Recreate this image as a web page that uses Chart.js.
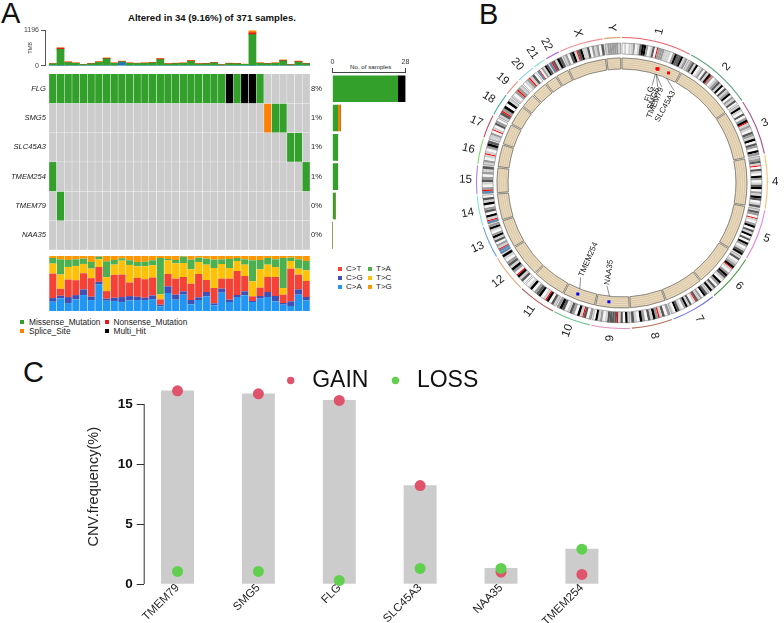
<!DOCTYPE html>
<html>
<head>
<meta charset="utf-8">
<script src="https://cdn.jsdelivr.net/npm/chart.js@4/dist/chart.umd.js"></script>
<style>
html,body{margin:0;padding:0;background:#fff}
#page{position:relative;width:784px;height:623px;overflow:hidden;font-family:"Liberation Sans",Arial,sans-serif;color:#111}
canvas{position:absolute}
.t{position:absolute;white-space:nowrap;line-height:1}
.sq{position:absolute;width:4px;height:4px}
</style>
</head>
<body>
<div id="page">
<span class="t" style="left:1px;top:-1px;font-size:29px">A</span>
<span class="t" style="left:479px;top:0px;font-size:29px">B</span>
<span class="t" style="left:23px;top:358px;font-size:29px">C</span>
<span class="t" style="left:128px;top:13px;font-size:9.6px;font-weight:bold">Altered in 34 (9.16%) of 371 samples.</span>
<span class="t" style="left:350px;top:64px;font-size:6.2px;color:#222">No. of samples</span>

<i class="sq" style="left:20px;top:320px;background:#33A02C"></i><span class="t" style="left:29px;top:318px;font-size:8.3px;color:#222">Missense_Mutation</span>
<i class="sq" style="left:105px;top:320px;background:#E31A1C"></i><span class="t" style="left:113.5px;top:318px;font-size:8.3px;color:#222">Nonsense_Mutation</span>
<i class="sq" style="left:20px;top:329px;background:#FF7F00"></i><span class="t" style="left:29px;top:327px;font-size:8.3px;color:#222">Splice_Site</span>
<i class="sq" style="left:105px;top:329px;background:#000"></i><span class="t" style="left:113.5px;top:327px;font-size:8.3px;color:#222">Multi_Hit</span>

<i class="sq" style="left:338px;top:267px;background:#F44336"></i><span class="t" style="left:346px;top:265px;font-size:8px;color:#222">C&gt;T</span>
<i class="sq" style="left:338px;top:276px;background:#3F51B5"></i><span class="t" style="left:346px;top:274px;font-size:8px;color:#222">C&gt;G</span>
<i class="sq" style="left:338px;top:285px;background:#2196F3"></i><span class="t" style="left:346px;top:283px;font-size:8px;color:#222">C&gt;A</span>
<i class="sq" style="left:368px;top:267px;background:#4CAF50"></i><span class="t" style="left:376px;top:265px;font-size:8px;color:#222">T&gt;A</span>
<i class="sq" style="left:368px;top:276px;background:#FFC107"></i><span class="t" style="left:376px;top:274px;font-size:8px;color:#222">T&gt;C</span>
<i class="sq" style="left:368px;top:285px;background:#FF9800"></i><span class="t" style="left:376px;top:283px;font-size:8px;color:#222">T&gt;G</span>

<canvas id="tmb" width="312" height="72" style="left:0;top:0"></canvas>
<canvas id="onco" width="345" height="200" style="left:0;top:60px"></canvas>
<canvas id="side" width="100" height="205" style="left:320px;top:50px"></canvas>
<canvas id="comp" width="312" height="60" style="left:0;top:254px"></canvas>
<canvas id="circos" width="344" height="344" style="left:450px;top:11px"></canvas>
<canvas id="cnv" width="759" height="271" style="left:0;top:352px"></canvas>
</div>
<script>
/* ---------- Panel A data ---------- */
const genes = ['FLG','SMG5','SLC45A3','TMEM254','TMEM79','NAA35'];
const genePct = ['8%','1%','1%','1%','0%','0%'];
const cellsFLG     = 'mmmmmmmmmm'+'mmmmmmmmmm'+'mmmxmxxm..'+'....';
const cellsSMG5    = '..........'+'..........'+'........sm'+'m...';
const cellsSLC45A3 = '..........'+'..........'+'..........'+'.mm.';
const cellsTMEM254 = 'm.........'+'..........'+'..........'+'...m';
const cellsTMEM79  = '.m........'+'..........'+'..........'+'....';
const cellsNAA35   = '..........'+'..........'+'..........'+'....';
const sideMissense = [25,2,2,2,1,0];
const sideSplice   = [0,1,0,0,0,0];
const sideMulti    = [3,0,0,0,0,0];
const tmbBlue     = [0,10,0,0,0,0,0,0,0,105,0,0,0,0,0,0,0,0,0,0,0,0,0,0,0,0,10,0,0,0,0,0,0,0];
const tmbMissense = [62,540,110,85,38,65,118,235,82,30,85,78,82,100,205,55,72,85,150,55,65,100,32,70,62,45,1030,85,65,85,170,35,125,62];
const tmbNonsense = [5,40,15,10,5,10,10,15,10,10,8,6,10,10,25,8,8,8,15,8,8,10,4,10,8,8,60,8,8,8,15,5,15,10];
const tmbSplice   = [3,10,5,5,2,5,12,20,8,15,7,6,8,10,15,7,10,7,15,7,7,10,4,10,10,7,70,7,7,7,15,2,20,8];
const shareCA = [28,38,24,35,48,33,81,31,30,27,32,33,33,36,14,54,34,49,20,33,44,17,55,27,42,47,27,37,42,29,19,15,49,32];
const shareCG = [11,8,18,13,17,10,7,6,10,15,13,10,7,11,5,20,15,10,13,8,13,6,12,7,6,12,3,8,15,16,5,14,16,10];
const shareCT = [74,21,53,45,49,56,45,23,69,68,41,57,56,54,16,37,48,43,49,70,36,46,30,63,72,46,14,25,45,57,25,98,44,48];
const shareTC = [30,43,38,43,28,29,23,42,31,42,53,35,39,37,15,41,46,42,43,36,46,60,44,32,30,34,45,55,37,30,20,23,18,32];
const shareTA = [17,46,21,20,16,20,8,48,14,7,14,13,14,15,110,4,10,19,29,13,18,25,14,27,9,16,63,28,20,23,90,10,28,28];
const shareTG = [6,10,12,10,8,18,2,16,12,7,13,18,17,13,6,9,12,2,11,5,8,11,10,9,6,10,13,12,6,10,6,5,10,15];

/* ---------- Panel B data ---------- */
const chrNames = ['1','2','3','4','5','6','7','8','9','10','11','12','13','14','15','16','17','18','19','20','21','22','X','Y'];
const chrSizes = [248.9,242.2,198.3,190.2,181.5,170.8,159.3,145.1,138.4,133.8,135.1,133.3,114.4,107,102,90.3,83.3,80.4,58.6,64.4,46.7,50.8,156,57.2];
const chrArcColors = ['#E8606A','#5BA37F','#A8528A','#F5C26B','#E680E6','#4F9A4A','#7070E0','#B8705A','#E090C0','#70C890','#B05555','#F0A070','#70A0E0','#80E8D0','#B080E8','#80E060','#C05060','#50B0A0','#F09080','#80D0F0','#80E8C0','#A060E0','#F09090','#D8A070'];
const chrBands = ['0101120134420130r22211102433412','123140120314r20123140312402130','14103024r12103214032042','1231r031042013402143013','1320r10240314030420134','130124r1024310420314','1340213r103142013401','2031r2413024013','14031r3333102140','203r1402310342','1304r104320410','0314r024132014','bbr12031420142','br1403204130','br201320213','1201r10243','1120r10320','13r24041','102r21','012r130','br02143','br3143','120341r34113021203','1222221'];
const geneLabels = ['FLG','SMG5','TMEM79','SLC45A3','TMEM254','NAA35'];
const geneChr = [0,0,0,0,9,8];
const geneMb = [152,156,156,205,80,86];
const geneColors = ['#ff0000','#ff0000','#ff0000','#ff0000','#0000ff','#0000ff'];

/* ---------- Panel C data ---------- */
const cnvGenes = ['TMEM79','SMG5','FLG','SLC45A3','NAA35','TMEM254'];
const cnvGain = [16.1,15.85,15.3,8.2,1.0,0.8];
const cnvLoss = [1.05,1.05,0.3,1.3,1.3,2.9];
const cnvTotal = [16.1,15.85,15.3,8.2,1.3,2.9];
const cnvTicks = [0,5,10,15];

/* ---------- shared ---------- */
Chart.defaults.font.family = '"Liberation Sans",Arial,sans-serif';
Chart.defaults.animation = false;
Chart.defaults.responsive = false;
Chart.defaults.events = [];
Chart.defaults.plugins.legend.display = false;
Chart.defaults.plugins.tooltip.enabled = false;
const cellColor = {m:'#33A02C',s:'#FF7F00',x:'#000000','.':'#CCCCCC'};
const columnIndex = tmbMissense.map((_,i)=>i);
const rowCenters = genes.map((_,i)=>i+0.5);
const setTicks = vals => s => { s.ticks = vals.map(v=>({value:v})); };
const fixWidth = w => s => { s.width = w; };
const fixHeight = h => s => { s.height = h; };

/* TMB */
const tmbPts = arr => arr.map((v,i)=>({x:i,y:v}));
new Chart(document.getElementById('tmb'),{
  type:'bar',
  data:{datasets:[
    {data:tmbPts(tmbBlue),backgroundColor:'#1F78B4'},
    {data:tmbPts(tmbMissense),backgroundColor:'#33A02C'},
    {data:tmbPts(tmbNonsense),backgroundColor:'#E31A1C'},
    {data:tmbPts(tmbSplice),backgroundColor:'#FF7F00'}
  ]},
  options:{
    layout:{padding:{top:30,bottom:2,right:2}},
    datasets:{bar:{barThickness:7.1}},
    scales:{
      x:{type:'linear',offset:false,display:false,stacked:true,min:-1.02,max:33.5},
      y:{stacked:true,min:0,max:1196,afterBuildTicks:setTicks([0,1196]),afterFit:fixWidth(45),
        border:{color:'#555',width:1},
        grid:{drawOnChartArea:false,tickLength:4,color:'#555'},
        ticks:{callback:v=>String(v),font:{size:7},color:'#444',padding:2},
        title:{display:true,text:'TMB',font:{size:5.5},color:'#333',padding:{top:27,bottom:0}}}
    }
  }
});

/* oncoplot */
const cellRows = [cellsFLG,cellsSMG5,cellsSLC45A3,cellsTMEM254,cellsTMEM79,cellsNAA35];
new Chart(document.getElementById('onco'),{
  type:'bar',
  data:{labels:columnIndex,datasets:cellRows.map(r=>({
    data:r.split('').map(()=>1),
    backgroundColor:r.split('').map(c=>cellColor[c]),
    borderColor:'#f4f4f4',borderWidth:0.5
  }))},
  options:{
    layout:{padding:{top:14,bottom:10}},
    datasets:{bar:{barPercentage:1,categoryPercentage:1}},
    scales:{
      x:{stacked:true,display:false},
      y:{stacked:true,reverse:true,min:0,max:6,afterBuildTicks:setTicks(rowCenters),afterFit:fixWidth(49),
        border:{display:false},grid:{display:false,drawTicks:false},
        ticks:{callback:v=>genes[v-0.5],font:{size:7.6,style:'italic'},color:'#222',padding:3}},
      y1:{position:'right',reverse:true,min:0,max:6,afterBuildTicks:setTicks(rowCenters),afterFit:fixWidth(35),
        border:{display:false},grid:{display:false,drawTicks:false},
        ticks:{callback:v=>genePct[v-0.5],font:{size:7.6},color:'#222',padding:1}}
    }
  }
});

/* sample counts */
const sidePts = arr => arr.map((v,i)=>({x:v,y:rowCenters[i]}));
new Chart(document.getElementById('side'),{
  type:'bar',
  data:{datasets:[
    {data:sidePts(sideMissense),backgroundColor:'#33A02C'},
    {data:sidePts(sideSplice),backgroundColor:'#FF7F00'},
    {data:sidePts(sideMulti),backgroundColor:'#000000'}
  ]},
  options:{
    indexAxis:'y',
    layout:{padding:{left:12.5,right:14.5,bottom:5}},
    datasets:{bar:{barThickness:26}},
    scales:{
      x:{type:'linear',position:'top',stacked:true,min:0,max:28,afterBuildTicks:setTicks([0,28]),afterFit:fixHeight(22),
        border:{color:'#444',width:1},
        grid:{drawOnChartArea:false,tickLength:4,color:'#444'},
        ticks:{font:{size:7},color:'#333',padding:2,maxRotation:0}},
      y:{type:'linear',offset:false,stacked:true,display:false,reverse:true,min:-0.07,max:6}
    }
  }
});

/* mutation spectrum */
const shareTotals = columnIndex.map(i=>shareCA[i]+shareCG[i]+shareCT[i]+shareTC[i]+shareTA[i]+shareTG[i]);
const asShare = arr => arr.map((v,i)=>v/shareTotals[i]);
new Chart(document.getElementById('comp'),{
  type:'bar',
  data:{labels:columnIndex,datasets:[
    {data:asShare(shareCA),backgroundColor:'#2196F3'},
    {data:asShare(shareCG),backgroundColor:'#3F51B5'},
    {data:asShare(shareCT),backgroundColor:'#F44336'},
    {data:asShare(shareTC),backgroundColor:'#FFC107'},
    {data:asShare(shareTA),backgroundColor:'#4CAF50'},
    {data:asShare(shareTG),backgroundColor:'#FF9800'}
  ]},
  options:{
    layout:{padding:{left:49,right:2,top:2,bottom:3}},
    datasets:{bar:{barPercentage:1,categoryPercentage:0.93}},
    scales:{x:{stacked:true,display:false},y:{stacked:true,display:false,min:0,max:1}}
  }
});

/* circos */
const GAP = 5.5;
const bandColor = {'0':'#f6f6f6','1':'#d2d2d2','2':'#9c9c9c','3':'#585858','4':'#000000',r:'#ff0000',b:'#5b8db8'};
const chrData = chrSizes.flatMap(s=>[s,GAP]);
const spacer = w => ({data:chrData,backgroundColor:'rgba(0,0,0,0)',borderWidth:0,weight:w});
const tanRing = () => ({data:chrData,weight:2.2,
  backgroundColor:chrSizes.flatMap(()=>['#EBDABB','rgba(0,0,0,0)']),
  borderColor:chrSizes.flatMap(()=>['#CBB998','rgba(0,0,0,0)']),
  borderWidth:chrSizes.flatMap(()=>[0.5,0])});
const bandWeight = c => c==='r' ? 0.5 : 1;
const ideoData = chrSizes.flatMap((s,i)=>{
  const chars = chrBands[i].split('');
  const sum = chars.reduce((t,c)=>t+bandWeight(c),0);
  return chars.map(c=>s*bandWeight(c)/sum).concat([GAP]);
});
const ideoColors = chrSizes.flatMap((s,i)=>chrBands[i].split('').map(c=>bandColor[c]).concat(['rgba(0,0,0,0)']));

const circosMarks = {
  id:'circosMarks',
  afterDatasetsDraw(chart){
    const ctx = chart.ctx, n = chart.data.datasets.length;
    const outer = chart.getDatasetMeta(0).data;
    const ideo = chart.getDatasetMeta(2).data[0];
    const tanOut = chart.getDatasetMeta(4).data[0];
    const tanIn = chart.getDatasetMeta(n-1).data[0];
    const cx = outer[0].x, cy = outer[0].y;
    const polar = (r,a)=>[cx+r*Math.cos(a),cy+r*Math.sin(a)];
    const seg = (r0,r1,a0,a1,col,w)=>{
      ctx.beginPath();ctx.arc(cx,cy,r1,a0,a1);ctx.arc(cx,cy,r0,a1,a0,true);ctx.closePath();
      ctx.strokeStyle=col;ctx.lineWidth=w;ctx.stroke();
    };
    ctx.save();
    ctx.textAlign='center';ctx.textBaseline='middle';
    chrNames.forEach((name,i)=>{
      const e = outer[i*2];
      seg(ideo.innerRadius,ideo.outerRadius,e.startAngle,e.endAngle,'#666',0.5);
      seg(tanIn.innerRadius,tanOut.outerRadius,e.startAngle,e.endAngle,'#666',0.7);
      const mid=(e.startAngle+e.endAngle)/2;
      const deg=(mid+Math.PI/2)*180/Math.PI;
      const rot=(deg<180?deg-90:deg-270)*Math.PI/180;
      ctx.font='11.5px "Liberation Sans"';
      const tw=ctx.measureText(name).width;
      const r=150+0.5*(Math.abs(Math.cos(rot))*tw+Math.abs(Math.sin(rot))*11);
      const [x,y]=polar(r,mid);
      ctx.save();ctx.translate(x,y);ctx.rotate(rot);ctx.fillStyle='#222';ctx.fillText(name,0,0);ctx.restore();
    });
    /* gene marks */
    const labelNudge=[0.2,3,5,6.5,2,2];
    const labelR=[101,101.5,103,105,102,103];
    geneLabels.forEach((g,i)=>{
      const e=outer[geneChr[i]*2];
      const a=e.startAngle+(e.endAngle-e.startAngle)*geneMb[i]/chrSizes[geneChr[i]];
      const la=a+labelNudge[i]*Math.PI/180;
      const [p0x,p0y]=polar(tanIn.innerRadius,a);
      const [p1x,p1y]=polar(labelR[i]+1,la);
      ctx.beginPath();ctx.moveTo(p0x,p0y);ctx.lineTo(p1x,p1y);ctx.strokeStyle='#222';ctx.lineWidth=0.5;ctx.stroke();
      const [mx,my]=polar(119.5,a);
      ctx.fillStyle=geneColors[i];ctx.fillRect(mx-1.5,my-1.5,3,3);
      const deg=(la+Math.PI/2)*180/Math.PI;
      const right=deg<180;
      const [tx,ty]=polar(labelR[i],la);
      ctx.save();ctx.translate(tx,ty);
      ctx.rotate((right?deg-90:deg-270)*Math.PI/180);
      ctx.textAlign=right?'right':'left';
      ctx.font='8px "Liberation Sans"';ctx.fillStyle='#222';
      ctx.fillText(g,0,0);ctx.restore();
    });
    ctx.restore();
  }
};
new Chart(document.getElementById('circos'),{
  type:'doughnut',
  plugins:[circosMarks],
  data:{labels:chrData.map((_,i)=>i),datasets:[
    {data:chrData,weight:1.1,borderWidth:0,backgroundColor:chrArcColors.flatMap(c=>[c,'rgba(0,0,0,0)'])},
    spacer(4.9),
    {data:ideoData,weight:11,borderWidth:0,backgroundColor:ideoColors},
    spacer(4),
    tanRing(),tanRing(),tanRing(),tanRing(),tanRing()
  ]},
  options:{
    layout:{padding:26},
    cutout:114,
    rotation:0
  }
});

/* CNV frequency */
const cnvAxisLine = {
  id:'cnvAxisLine',
  afterLayout(chart){ chart.legend.bottom = chart.legend.top + 60; },
  afterDraw(chart){
    const y=chart.scales.y, x=chart.chartArea.left+0.5, ctx=chart.ctx;
    ctx.save();ctx.beginPath();
    ctx.moveTo(x,y.getPixelForValue(0));ctx.lineTo(x,y.getPixelForValue(15));
    ctx.strokeStyle='#333';ctx.lineWidth=1;ctx.stroke();ctx.restore();
  }
};
const pts = arr => arr.map((v,i)=>({x:i,y:v}));
new Chart(document.getElementById('cnv'),{
  type:'bar',
  plugins:[cnvAxisLine],
  data:{datasets:[
    {type:'bar',data:pts(cnvTotal),backgroundColor:'#CCCCCC',barThickness:32.3,order:3},
    {type:'scatter',label:'GAIN',data:pts(cnvGain),backgroundColor:'#DF536B',borderWidth:0,pointRadius:5.5,pointStyle:'circle',order:2,clip:false},
    {type:'scatter',label:'LOSS',data:pts(cnvLoss),backgroundColor:'#61D04F',borderWidth:0,pointRadius:5.5,pointStyle:'circle',order:1,clip:false}
  ]},
  options:{
    plugins:{legend:{display:true,position:'top',maxHeight:37.6,
      labels:{usePointStyle:true,boxWidth:20,boxHeight:5.2,padding:17,color:'#111',font:{size:23},
        sort:(a,b)=>a.datasetIndex-b.datasetIndex,
        filter:i=>i.text==='GAIN'||i.text==='LOSS'}}},
    scales:{
      x:{type:'linear',offset:false,min:-0.418,max:7.122,afterBuildTicks:setTicks(cnvGenes.map((_,i)=>i)),afterFit:fixHeight(39),
        border:{display:false},grid:{display:false,drawTicks:false},
        ticks:{callback:v=>cnvGenes[v],autoSkip:false,minRotation:45,maxRotation:45,font:{size:11.5},color:'#222',padding:-3}},
      y:{min:0,max:16.2,afterBuildTicks:setTicks(cnvTicks),afterFit:fixWidth(143.7),
        border:{display:false},
        grid:{drawOnChartArea:false,tickLength:7,color:'#333'},
        ticks:{font:{size:13.5,weight:'bold'},color:'#111',padding:4},
        title:{display:true,text:'CNV.frequency(%)',font:{size:14.5},color:'#222',padding:{top:85,bottom:0}}}
    }
  }
});
</script>
</body>
</html>
